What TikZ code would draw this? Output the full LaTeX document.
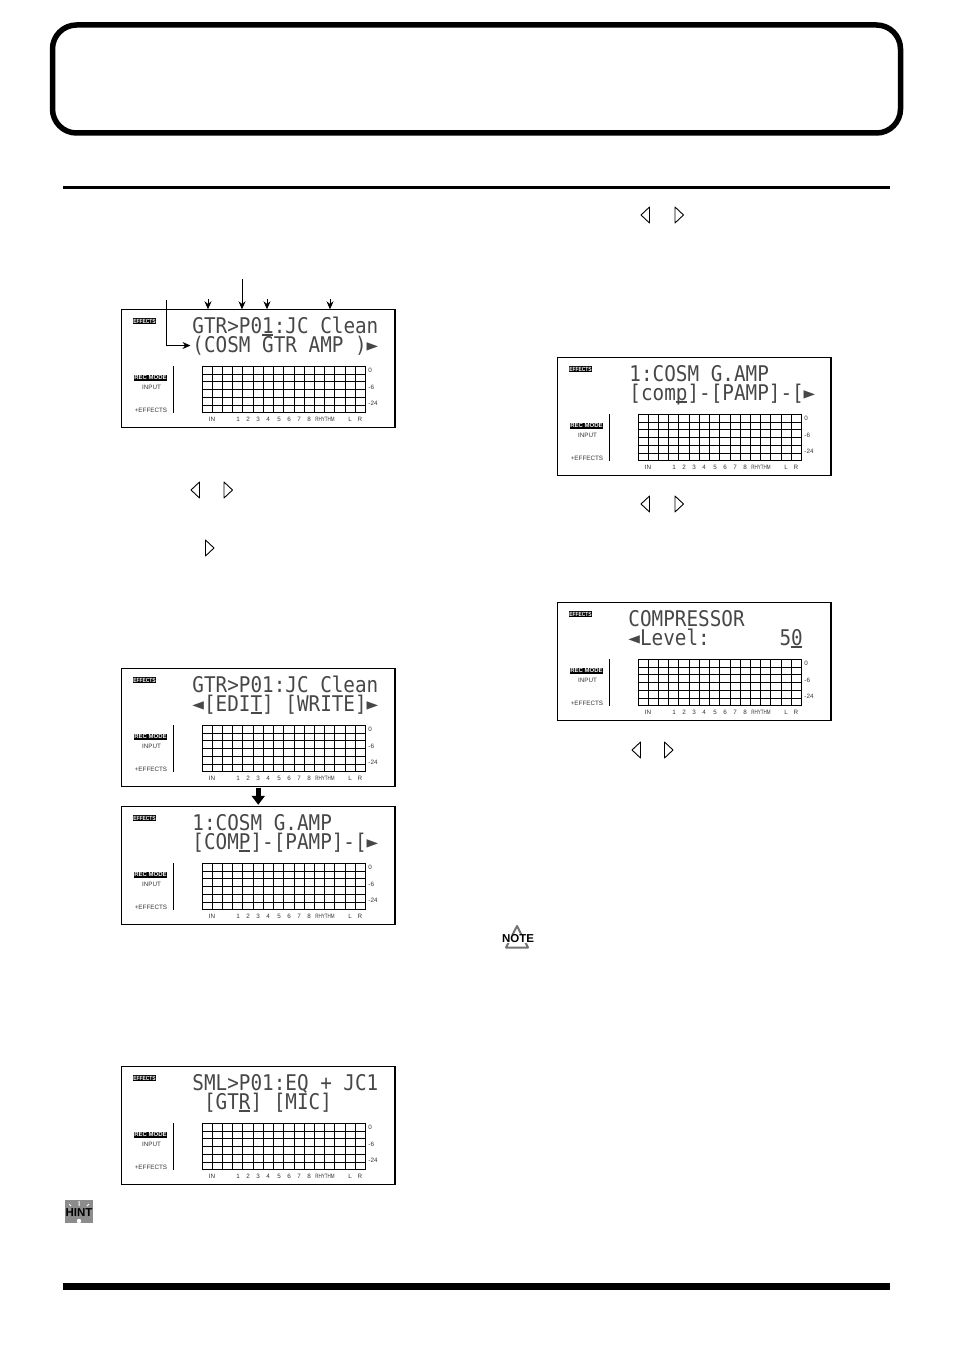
\documentclass[tikz,border=0pt]{standalone}
\usepackage{fontspec}
\setmainfont{Liberation Sans}
\newfontfamily\lcdfont{DejaVu Sans Mono}
\usetikzlibrary{arrows.meta}
\newcommand{\curs}[1]{\rlap{\rule[-2.5pt]{11pt}{1.5pt}}#1}
\newcommand{\lcdpanel}[6]{%
\node[lcdbox] (#1) at (#2,#3) {};
\begin{scope}[shift={(#2,#3)}]
\node[tagblack] (#1-fx) at (23,12) {\scalebox{0.82}[1]{EFFECTS}};
\node[tagblack] (#1-rec) at (29,68.5) {REC MODE};
\node[tagplain] (#1-input) at (30,78) {INPUT};
\node[tagplain] (#1-plus) at (29.5,101) {+EFFECTS};
\node[lcdtext] (#1-line1) at (#4,24) {\scalebox{1}[1.12]{#5}};
\node[lcdtext] (#1-line2) at (#4,43) {\scalebox{1}[1.12]{#6}};
\draw (52,57) -- (52,103.5);
\foreach \i in {0,...,16} \draw (80.5+\i*10.22,57) -- (80.5+\i*10.22,103.5);
\foreach \j in {0,...,6} \draw (80.5,57+\j*7.75) -- (244,57+\j*7.75);
\foreach \lab/\xx in {IN/90.5,1/116.5,2/126.5,3/136.5,4/146.5,5/157.5,6/167.5,7/177.5,8/187.5,L/228.5,R/238.5}
  \node[tagplain,anchor=base] (#1-\lab) at (\xx,111.7) {\lab};
\node[tagplain,anchor=base] (#1-rhythm) at (203.5,111.7) {\scalebox{0.72}[1]{RHYTHM}};
\foreach \lab/\yy in {0/63,-6/80,-24/96}
  \node[tagplain,anchor=base west] (#1-scale\lab) at (246.5,\yy) {\lab};
\end{scope}}
\newcommand{\btnleft}[2]{\draw[btn] (#1+8.5,#2-8) -- (#1,#2) -- (#1+8.5,#2+8) -- cycle;}
\newcommand{\btnright}[2]{\draw[btn] (#1,#2-8) -- (#1+8.5,#2) -- (#1,#2+8) -- cycle;}
\begin{document}
\begin{tikzpicture}[x=1pt,y=-1pt,>={Stealth[length=8pt,width=7pt]},line width=0.9pt]
\tikzstyle{lcdbox}=[draw,line width=1.1pt,anchor=north west,minimum width=273.5pt,minimum height=118.5pt,inner sep=0pt,outer sep=0pt]
\tikzstyle{lcdtext}=[anchor=base west,inner sep=0pt,text=black!72,font=\lcdfont\fontsize{19.3}{22}\selectfont]
\tikzstyle{tagblack}=[fill=black,text=white,inner xsep=0.5pt,inner ysep=1pt,font=\bfseries\fontsize{6}{7}\selectfont]
\tikzstyle{tagplain}=[inner sep=0pt,text=black!80,font=\fontsize{6.3}{7}\selectfont]
\tikzstyle{btn}=[draw,line width=0.9pt,line join=round]
\tikzstyle{raywhite}=[draw=white,line width=1pt]
\useasboundingbox (0,0) rectangle (954,1351);
\node[draw,line width=5.5pt,rounded corners=24pt,minimum width=848pt,minimum height=108pt,outer sep=0pt] (titleFrame) at (476.5,79) {};
\coordinate (ruleTopL) at (63,188);
\coordinate (ruleTopR) at (890,188);
\coordinate (ruleBotL) at (63,1286.5);
\coordinate (ruleBotR) at (890,1286.5);
\draw[line width=3pt] (ruleTopL) -- (ruleTopR);
\draw[line width=7.5pt] (ruleBotL) -- (ruleBotR);
\lcdpanel{lcdA}{121.5}{309.3}{70.5}{GTR>P0\curs{1}:JC Clean}{(COSM GTR AMP )►}
\lcdpanel{lcdB}{121.5}{668.3}{70.5}{GTR>P01:JC Clean}{◄[EDI\curs{T}] [WRITE]►}
\lcdpanel{lcdC}{121.5}{806.3}{70.5}{1:COSM G.AMP}{[COM\curs{P}]-[PAMP]-[►}
\lcdpanel{lcdD}{121.5}{1066.3}{70.5}{SML>P01:EQ + JC1}{~[GT\curs{R}] [MIC]}
\lcdpanel{lcdE}{557.5}{357.3}{71.5}{1:COSM G.AMP}{[com\curs{p}]-[PAMP]-[►}
\lcdpanel{lcdF}{557.5}{602.3}{70.5}{COMPRESSOR}{◄Level:~~~~~~5\curs{0}}
\coordinate (tagPatch) at (166.5,300);
\coordinate (tagBank) at (208,299);
\coordinate (tagGroup) at (242,279);
\coordinate (tagNum) at (267,299);
\coordinate (tagName) at (330,299);
\draw[->] (tagPatch) |- ([xshift=-1.5pt]lcdA-line2.west);
\draw[->] (tagBank) -- (tagBank |- lcdA.north);
\draw[->] (tagGroup) -- (tagGroup |- lcdA.north);
\draw[->] (tagNum) -- (tagNum |- lcdA.north);
\draw[->] (tagName) -- (tagName |- lcdA.north);
\draw[-{Triangle[length=9pt,width=13pt]},line width=5pt,shorten <=1pt,shorten >=1.5pt] (lcdB.south) -- (lcdC.north);
\btnleft{191}{490}
\btnright{224}{490}
\btnright{205.5}{548}
\btnleft{641}{215}
\btnright{675}{215}
\btnleft{641}{504}
\btnright{675}{504}
\btnleft{632}{750}
\btnright{664.5}{750}
\node[fill=black!45,minimum width=28pt,minimum height=23pt,inner sep=0pt,anchor=north west] (hintBox) at (65,1200) {};
\draw[raywhite] (79,1206) -- (79,1201) (71,1206) -- (69,1204) (87,1206) -- (89,1204);
\fill[white] (79,1221) circle (2.2pt);
\node[inner sep=0pt,font=\bfseries\fontsize{11.5}{12}\selectfont] (hintIcon) at (79,1213) {HINT};
\coordinate (noteTop) at (517,926);
\coordinate (noteLeft) at (506,947.5);
\coordinate (noteRight) at (528,947.5);
\draw[draw=black!55,line width=2pt,line join=round] (noteTop) -- (noteLeft) -- (noteRight) -- cycle;
\node[inner sep=0.3pt,fill=white,font=\bfseries\fontsize{11.5}{12}\selectfont] (noteIcon) at (518,939) {NOTE};
\end{tikzpicture}
\end{document}
